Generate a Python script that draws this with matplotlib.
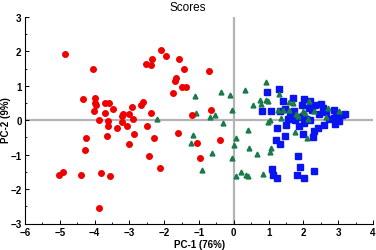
import matplotlib
matplotlib.use("Agg")
import matplotlib.pyplot as plt
from matplotlib.ticker import MultipleLocator

plt.rcParams['font.family'] = ['Liberation Sans', 'DejaVu Sans']

red_x = [-4.85, -4.04, -4.34, -3.98, -3.99, -3.95, -4.03, -3.71, -3.58, -3.47,
         -3.70, -3.86, -3.62, -3.62, -3.63, -3.36, -3.21, -3.19, -3.22, -3.08,
         -3.00, -2.93, -2.89, -2.87, -3.02, -2.67, -2.61, -2.38, -2.49, -2.28,
         -2.44, -2.13, -2.51, -2.37, -2.35, -2.09, -1.95, -1.57, -1.42, -1.66,
         -1.68, -1.75, -1.50, -1.36, -0.70, -0.65, -1.20, -1.61, -1.05, -0.41,
         -0.97, -4.25, -4.29, -5.02, -4.90, -4.40, -3.82, -3.56, -3.87]
red_y = [1.93, 1.48, 0.61, 0.64, 0.51, 0.45, 0.26, 0.51, 0.49, 0.33,
         0.20, 0.02, -0.02, -0.17, -0.47, -0.23, 0.12, 0.18, -0.05, -0.17,
         0.19, 0.39, 0.04, -0.41, -0.68, 0.43, 0.53, 0.20, -0.17, -0.51,
         -1.03, -1.40, 1.63, 1.60, 1.79, 2.04, 1.88, 1.77, 1.48, 1.24,
         1.13, 0.79, 0.96, 0.96, 1.44, 0.30, 0.14, -0.37, -0.66, -0.56,
         -1.10, -0.53, -0.85, -1.58, -1.50, -1.58, -1.53, -1.63, -2.55]

green_x = [-2.21, -1.11, -0.36, -0.11, 0.32, 0.93, -1.08, -0.54, -0.68, -0.06,
           -0.32, 0.40, -1.18, -1.23, 0.06, 0.01, 0.45, -0.63, -0.06, 1.08,
           1.05, 0.68, -0.91, 0.22, 0.05, 0.40, 0.35, 0.85, 1.75, 2.11,
           0.99, 1.04, 1.36, 1.29, 0.75, 0.92, 0.97, 0.55, 0.77, 1.28,
           1.40, 1.59, 1.69, 1.60, 1.79, 1.84, 1.98, 2.04, 2.17, 2.12,
           2.31, 2.70, 2.66, 3.03]
green_y = [0.05, 0.71, 0.83, 0.73, 0.89, 1.12, 0.22, 0.15, 0.09, 0.30,
           -0.09, -0.27, -0.43, -0.65, -0.52, -0.71, -0.81, -0.95, -1.10, -0.82,
           -0.91, -0.99, -1.44, -1.49, -1.62, -1.63, -1.60, -1.55, -0.35, -0.52,
           -0.04, 0.00, 0.07, 0.76, 0.60, 0.58, 0.55, 0.43, 0.46, 0.29,
           0.31, 0.53, 0.49, 0.31, 0.18, 0.13, 0.26, 0.22, 0.56, 0.04,
           0.28, 0.37, 0.08, 0.27]

blue_x = [0.94, 1.29, 0.82, 1.06, 1.40, 1.69, 2.03, 2.19, 1.33, 1.48,
          1.61, 1.74, 1.69, 1.83, 1.98, 2.07, 2.25, 2.34, 2.50, 2.55,
          2.44, 2.89, 2.94, 3.01, 2.89, 3.03, 3.20, 3.10, 2.74, 2.92,
          2.60, 2.41, 2.31, 2.29, 2.00, 1.86, 2.03, 1.50, 1.23, 1.48,
          1.21, 1.33, 1.85, 1.90, 1.81, 2.01, 2.30, 1.10, 1.12, 1.24,
          1.55, 1.75, 2.20, 2.15, 2.65, 1.95]
blue_y = [0.83, 0.90, 0.26, 0.27, 0.56, 0.65, 0.61, 0.56, 0.28, 0.33,
          0.22, 0.26, 0.10, 0.10, 0.12, 0.04, 0.29, 0.43, 0.48, 0.35,
          0.19, 0.31, 0.22, 0.14, 0.07, -0.03, 0.18, 0.15, 0.04, -0.10,
          -0.14, -0.22, -0.32, -0.49, -0.39, -0.17, -0.08, -0.13, -0.22, -0.47,
          -0.58, -0.68, -1.05, -1.36, -1.60, -1.67, -1.47, -1.42, -1.59, -1.67,
          0.05, 0.00, 0.00, 0.35, 0.25, 0.45]

fig = plt.figure(figsize=(3.76, 2.51), dpi=100)
ax = fig.add_axes([25/376, 1 - 224.5/251, 348/376, (224.5 - 18)/251])

ax.axhline(0, color='#b4b4b4', lw=1.6, zorder=1)
ax.axvline(0, color='#b4b4b4', lw=1.6, zorder=1)

ax.plot(green_x, green_y, linestyle='none', marker='^', ms=3.5,
        color='#1a7a4a', mec='#1a7a4a', zorder=3)
ax.plot(blue_x, blue_y, linestyle='none', marker='s', ms=3.9,
        color='#0a14f0', mec='#0a14f0', zorder=2)
ax.plot(red_x, red_y, linestyle='none', marker='o', ms=4.0,
        color='#f00000', mec='#f00000', zorder=3)

ax.set_xlim(-6, 4)
ax.set_ylim(-3, 3)
ax.xaxis.set_major_locator(MultipleLocator(1))
ax.xaxis.set_minor_locator(MultipleLocator(0.5))
ax.yaxis.set_major_locator(MultipleLocator(1))
ax.yaxis.set_minor_locator(MultipleLocator(0.5))

for s in ['top', 'right']:
    ax.spines[s].set_visible(False)
for s in ['left', 'bottom']:
    ax.spines[s].set_linewidth(0.8)

ax.tick_params(which='major', direction='in', length=3, width=0.7,
               labelsize=7, pad=2.5)
ax.tick_params(which='minor', direction='in', length=1.5, width=0.6)
for lbl in ax.get_xticklabels() + ax.get_yticklabels():
    lbl.set_fontweight('bold')

fig.text(0.5, 1 - 8/251, 'Scores', ha='center', va='center', fontsize=8.5)
fig.text(200/376, 1 - 245/251, 'PC-1 (76%)', ha='center', va='center',
         fontsize=7, fontweight='bold')
fig.text(6/376, 1 - 120/251, 'PC-2 (9%)', ha='center', va='center',
         fontsize=7, fontweight='bold', rotation=90)

fig.savefig('out.png', dpi=100)
